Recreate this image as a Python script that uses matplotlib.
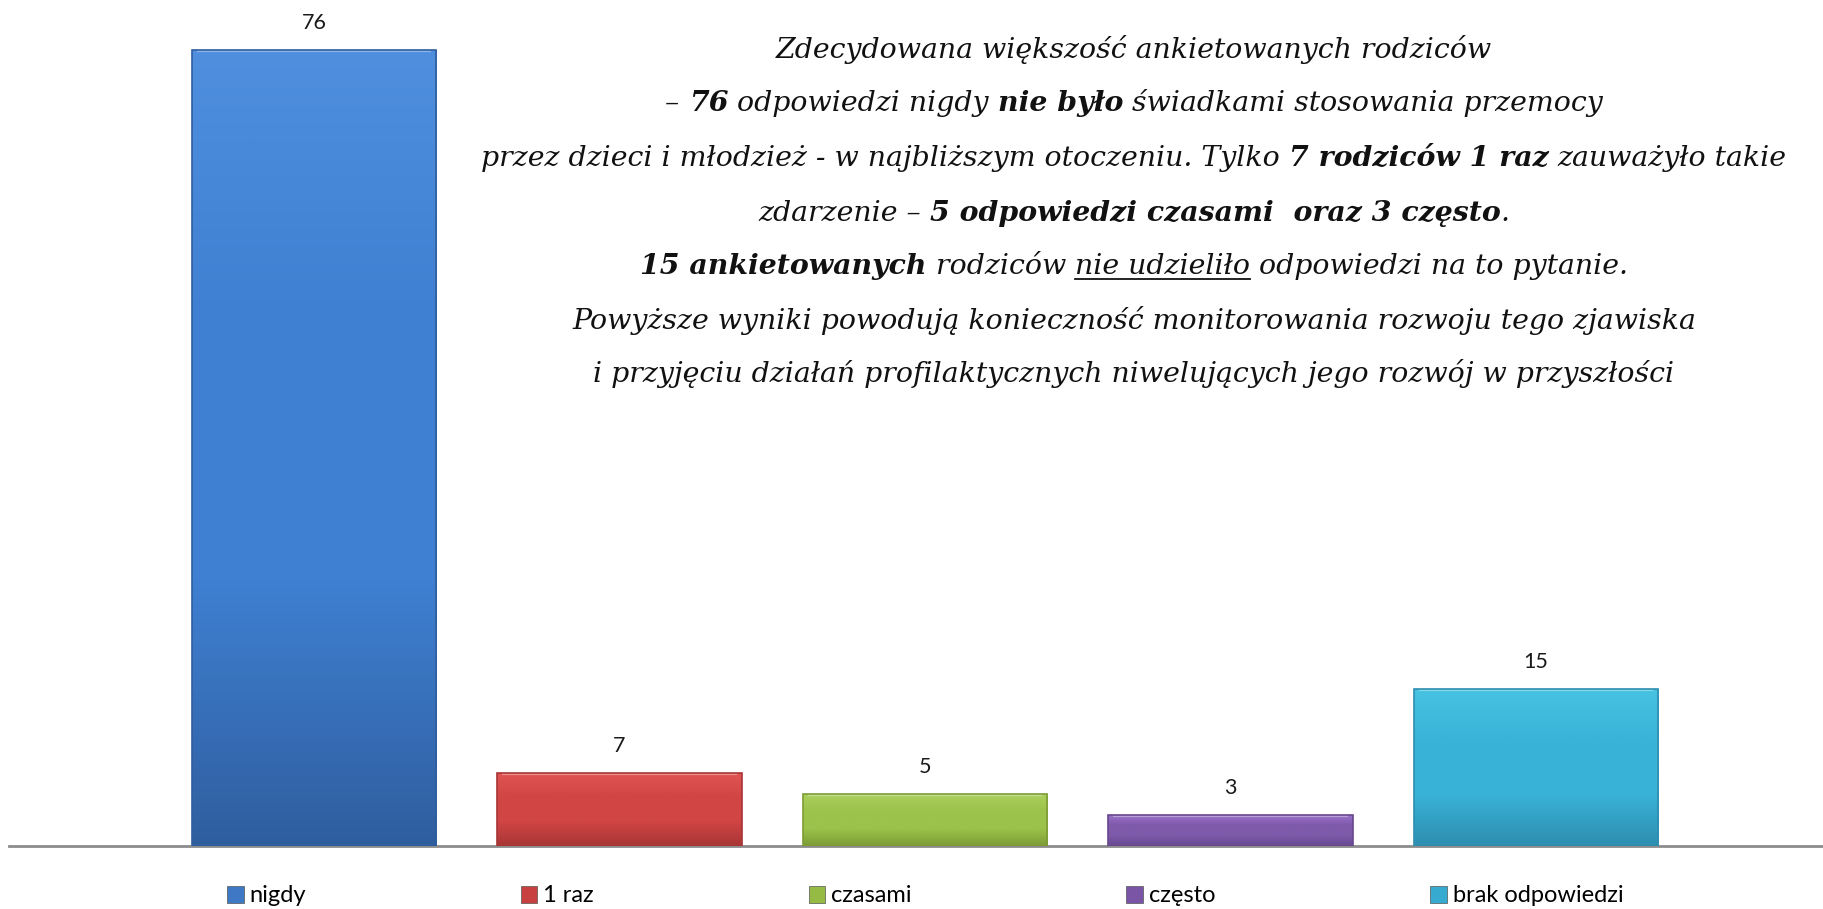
import numpy as np
import matplotlib
matplotlib.use('Agg')
import matplotlib.pyplot as plt
from matplotlib.patches import Patch
from matplotlib.colors import LinearSegmentedColormap

# data
categories = ['nigdy', '1 raz', 'czasami', 'często', 'brak odpowiedzi']
values = [76, 7, 5, 3, 15]
# (top, middle, bottom) shades for each bar
bar_shades = [
    ('#4f8fde', '#3f80d2', '#2f5e9f'),
    ('#e25555', '#d14545', '#a83535'),
    ('#add05e', '#9cc34b', '#7d9c35'),
    ('#9d74cc', '#7f5aab', '#67478f'),
    ('#48c3e2', '#39b3d7', '#2d8eb0'),
]
legend_colors = ['#3f78c4', '#c94040', '#95bb44', '#7a55a6', '#36abcf']

# text block: list of lines, each a list of (text, bold, underline)
note_lines = [
    [('Zdecydowana większość ankietowanych rodziców', False, False)],
    [('– ', False, False), ('76', True, False), (' odpowiedzi nigdy ', False, False),
     ('nie było', True, False), (' świadkami stosowania przemocy', False, False)],
    [('przez dzieci i młodzież - w najbliższym otoczeniu. Tylko ', False, False),
     ('7 rodziców 1 raz', True, False), (' zauważyło takie', False, False)],
    [('zdarzenie – ', False, False), ('5 odpowiedzi czasami  oraz 3 często', True, False),
     ('.', False, False)],
    [('15 ankietowanych', True, False), (' rodziców ', False, False),
     ('nie udzieliło', False, True), (' odpowiedzi na to pytanie.', False, False)],
    [('Powyższe wyniki powodują konieczność monitorowania rozwoju tego zjawiska', False, False)],
    [('i przyjęciu działań profilaktycznych niwelujących jego rozwój w przyszłości', False, False)],
]

W, H, DPI = 1824, 909, 100
fig = plt.figure(figsize=(W / DPI, H / DPI), dpi=DPI)
ax = fig.add_axes([9 / W, (H - 846) / H, 1 - 9 / W, 838 / H])

x = np.arange(len(values))
bars = ax.bar(x, values, width=0.8, color='none', edgecolor='none', zorder=2)
ax.set_xlim(-0.998, 4.942)
ax.set_ylim(0, 80)

# gradient fill clipped to each bar
for b, (top, mid, bot) in zip(bars, bar_shades):
    cmap = LinearSegmentedColormap.from_list('g', [bot, mid, mid, top], N=256)
    x0, y0 = b.get_x(), b.get_y()
    w, h = b.get_width(), b.get_height()
    grad = np.linspace(0, 1, 256).reshape(-1, 1)
    grad = np.hstack([grad, grad])
    im = ax.imshow(grad, cmap=cmap, origin='lower', aspect='auto',
                   extent=(x0, x0 + w, y0, y0 + h), zorder=3,
                   interpolation='bilinear')
    im.set_clip_path(b)
    # bevel highlight on top and shade on sides
    ax.plot([x0 + w * 0.02, x0 + w * 0.98], [y0 + h, y0 + h], color='white',
            alpha=0.35, lw=3, zorder=4, solid_capstyle='butt')
    ax.add_patch(plt.Rectangle((x0, y0), w, h, fill=False, edgecolor=bot,
                               lw=1.2, zorder=5))

for b, v in zip(bars, values):
    ax.annotate(str(v), (b.get_x() + b.get_width() / 2, v), xytext=(0, 27),
                textcoords='offset pixels', ha='center', va='center',
                fontsize=15.5, family='Lato', color='#1a1a1a')

for s in ['top', 'right', 'left']:
    ax.spines[s].set_visible(False)
ax.spines['bottom'].set_color('#8c8c8c')
ax.spines['bottom'].set_linewidth(2)
ax.set_xticks([])
ax.set_yticks([])

handles = [Patch(facecolor=c, edgecolor='#555555', lw=0.5) for c in legend_colors]
fig.legend(handles, categories, loc='center left', bbox_to_anchor=(227 / W, (H - 896) / H),
           ncol=5, frameon=False, prop={'family': 'Lato', 'size': 17},
           handlelength=0.7, handleheight=0.7, handletextpad=0.25,
           columnspacing=9.1, borderaxespad=0, borderpad=0)

# mixed-style centred text block
renderer = fig.canvas.get_renderer()
fsize = 20.4
cx = 1134
centers = [49, 102, 157, 212, 265, 320, 373]


def text_width(s, bold):
    t = fig.text(0, 0, s, fontsize=fsize, family='DejaVu Serif', style='italic',
                 fontweight='bold' if bold else 'normal')
    wpx = t.get_window_extent(renderer).width
    t.remove()
    return wpx


space_w = {b: text_width('a a', b) - text_width('aa', b) for b in (False, True)}

for line, yc in zip(note_lines, centers):
    pieces = []
    for txt, bold, ul in line:
        lead = len(txt) - len(txt.lstrip(' '))
        trail = len(txt) - len(txt.rstrip(' '))
        core = txt.strip(' ')
        pieces.append((core, bold, ul, lead * space_w[bold], text_width(core, bold),
                       trail * space_w[bold]))
    total = sum(p[3] + p[4] + p[5] for p in pieces)
    xpos = cx - total / 2
    ybase = H - yc - 9
    for core, bold, ul, lw_, cw, tw in pieces:
        xpos += lw_
        fig.text(xpos / W, ybase / H, core, fontsize=fsize, family='DejaVu Serif',
                 style='italic', fontweight='bold' if bold else 'normal',
                 ha='left', va='baseline', color='#111111')
        if ul:
            fig.add_artist(plt.Line2D([xpos / W, (xpos + cw) / W],
                                      [(ybase - 5) / H, (ybase - 5) / H],
                                      color='#111111', lw=1.3))
        xpos += cw + tw

fig.savefig('out.png', dpi=DPI, facecolor='white')
